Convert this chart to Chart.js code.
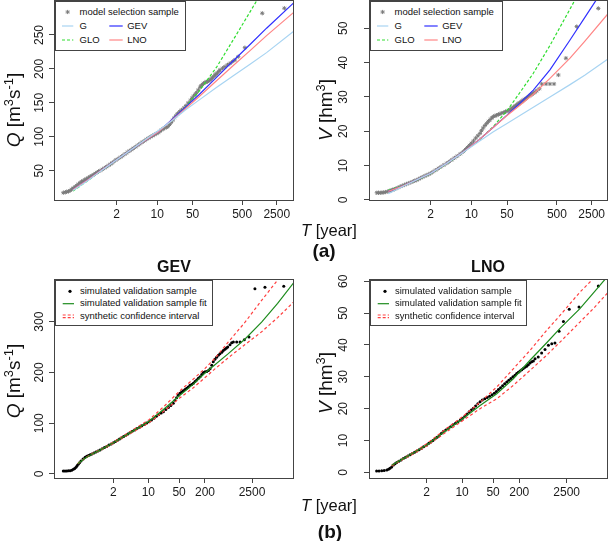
<!DOCTYPE html>
<html>
<head>
<meta charset="utf-8">
<title>Return period plots</title>
<script src="https://cdn.jsdelivr.net/npm/chart.js@4.4.1/dist/chart.umd.min.js"></script>
<style>
  html, body { margin: 0; padding: 0; background: #fff; }
  #figure { position: relative; width: 609px; height: 541px; overflow: hidden;
            font-family: "Liberation Sans", Arial, Helvetica, sans-serif; color: #111; }
  canvas { position: absolute; }
  .ytitle { position: absolute; font-size: 19px; line-height: 1; white-space: nowrap;
            transform: translate(-50%, -50%) rotate(-90deg); }
  .xtitle { position: absolute; font-size: 16.5px; line-height: 1; white-space: nowrap; transform: translateY(-50%); }
  .tag { position: absolute; font-size: 19px; font-weight: bold; line-height: 1; transform: translate(-50%, -50%); }
  .title { position: absolute; font-size: 16px; font-weight: bold; line-height: 1; transform: translate(-50%, -50%); }
  sup { font-size: 0.68em; line-height: 0; vertical-align: 0; position: relative; top: -0.55em; }
  .legend { position: absolute; box-sizing: border-box; border: 1px solid #444; background: #fff; font-size: 9.5px; }
  .legend span { position: absolute; line-height: 1; white-space: nowrap; transform: translateY(-50%); }
  .legend svg { position: absolute; left: 0; top: 0; overflow: visible; }
</style>
</head>
<body>
<div id="figure">
  <canvas id="tl" width="300" height="240" style="left:0;top:0"></canvas>
  <canvas id="tr" width="309" height="240" style="left:300px;top:0"></canvas>
  <canvas id="bl" width="300" height="260" style="left:0;top:255px"></canvas>
  <canvas id="br" width="309" height="260" style="left:300px;top:255px"></canvas>

  <div class="ytitle" style="left:13px;top:110px"><i>Q</i> [m<sup>3</sup>s<sup>-1</sup>]</div>
  <div class="ytitle" style="left:325px;top:110px"><i>V</i> [hm<sup>3</sup>]</div>
  <div class="ytitle" style="left:13px;top:381px"><i>Q</i> [m<sup>3</sup>s<sup>-1</sup>]</div>
  <div class="ytitle" style="left:325px;top:383px"><i>V</i> [hm<sup>3</sup>]</div>

  <div class="xtitle" style="left:301px;top:230px"><i>T</i> [year]</div>
  <div class="xtitle" style="left:301px;top:505px"><i>T</i> [year]</div>
  <div class="tag" style="left:324px;top:250px">(a)</div>
  <div class="tag" style="left:330px;top:531px">(b)</div>
  <div class="title" style="left:174px;top:267px">GEV</div>
  <div class="title" style="left:488px;top:267px">LNO</div>

  <div id="legend-tl" class="legend"></div>
  <div id="legend-tr" class="legend"></div>
  <div id="legend-bl" class="legend"></div>
  <div id="legend-br" class="legend"></div>
</div>

<script>
// x values are Gumbel reduced variates (probability paper), labelled with return periods
const topReturnTicks = [2, 10, 50, 500, 2500];
const bottomReturnTicks = [2, 10, 50, 200, 2500];
const qTopTicks = [50, 100, 150, 200, 250];
const vTopTicks = [0, 10, 20, 30, 40, 50];
const qBottomTicks = [0, 100, 200, 300];
const vBottomTicks = [0, 10, 20, 30, 40, 50, 60];

// (a) left: peak discharge, model selection sample
const tlSampleX = [-2.12, -2.03, -1.96, -1.88, -1.80, -1.73, -1.66, -1.58, -1.50, -1.42, -1.34, -1.27, -1.20, -1.12, -1.05, -0.96, -0.88, -0.79, -0.70, -0.62, -0.55, -0.48, -0.41, -0.30, -0.20, -0.10, 0.00, 0.08, 0.15, 0.24, 0.33, 0.44, 0.55, 0.65, 0.75, 0.85, 0.95, 1.05, 1.14, 1.25, 1.35, 1.45, 1.55, 1.66, 1.76, 1.86, 1.95, 2.04, 2.12, 2.21, 2.30, 2.38, 2.45, 2.53, 2.60, 2.68, 2.75, 2.83, 2.90, 2.98, 3.05, 3.13, 3.20, 3.30, 3.39, 3.50, 3.60, 3.70, 3.81, 3.88, 3.95, 4.02, 4.09, 4.17, 4.25, 4.30, 4.36, 4.42, 4.48, 4.54, 4.60, 4.66, 4.71, 4.77, 4.83, 4.89, 4.95, 5.00, 5.06, 5.12, 5.18, 5.30, 5.41, 5.53, 5.65, 5.77, 5.88, 6.03, 6.34, 7.15, 8.18];
const tlSampleQ = [17.6, 18.2, 19.0, 19.6, 20.8, 22.6, 24.2, 26.0, 28.0, 30.2, 32.3, 33.7, 35.0, 36.5, 38.0, 39.6, 41.2, 42.8, 44.5, 46.0, 47.5, 48.8, 50.0, 52.0, 54.0, 56.0, 58.0, 59.7, 61.5, 63.6, 65.8, 67.9, 70.0, 72.2, 74.5, 76.8, 79.0, 81.0, 83.0, 85.2, 87.5, 89.8, 92.0, 94.2, 96.3, 98.2, 100.0, 101.5, 103.0, 104.5, 106.0, 108.0, 110.0, 111.5, 113.0, 114.0, 115.0, 118.0, 121.0, 124.5, 128.0, 131.0, 134.0, 137.0, 139.5, 142.5, 146.0, 150.0, 154.0, 157.0, 160.0, 162.5, 165.0, 169.0, 173.0, 175.0, 177.0, 178.8, 180.0, 180.8, 181.5, 182.5, 183.5, 185.2, 187.0, 189.0, 191.0, 192.5, 194.0, 196.3, 198.5, 201.0, 203.3, 206.0, 208.3, 211.0, 213.2, 218.0, 231.3, 282.0, 289.4];
const tlFitX = [-1.67, -1.0, -0.4, 0.37, 1.14, 1.76, 2.3, 3.0, 3.55, 4.2, 5.03, 5.8, 6.58, 7.35, 8.6];
const tlG = [21, 35, 49, 66, 83, 97, 109, 125, 139, 154, 173, 190, 207, 224, 255];
const tlGEV = [22, 36, 49.5, 66, 83, 96, 107, 127, 143, 162, 188, 212, 236, 260, 297];
const tlGLO = [20, 35, 49, 66, 83, 96, 107, 126, 143, 167, 203, 243, 284, 325];
const tlLNO = [22, 36, 49.5, 66, 83, 96, 107, 126, 141, 159, 183, 205, 227, 249, 283];

// (a) right: flood volume, model selection sample
const trSampleX = [-2.13, -2.05, -1.97, -1.89, -1.81, -1.72, -1.62, -1.52, -1.46, -1.40, -1.33, -1.25, -1.15, -1.05, -0.95, -0.85, -0.75, -0.65, -0.55, -0.45, -0.37, -0.28, -0.19, -0.10, 0.00, 0.10, 0.19, 0.28, 0.37, 0.48, 0.60, 0.72, 0.85, 0.98, 1.11, 1.23, 1.35, 1.47, 1.60, 1.74, 1.88, 1.98, 2.07, 2.16, 2.25, 2.35, 2.45, 2.55, 2.65, 2.72, 2.80, 2.88, 2.96, 3.04, 3.12, 3.20, 3.27, 3.35, 3.42, 3.50, 3.58, 3.66, 3.75, 3.83, 3.91, 3.98, 4.04, 4.10, 4.15, 4.21, 4.27, 4.32, 4.37, 4.42, 4.46, 4.51, 4.56, 4.61, 4.66, 4.72, 4.78, 4.84, 4.89, 4.95, 5.00, 5.06, 5.12, 5.20, 5.28, 5.40, 5.51, 5.71, 5.89, 6.08, 6.28, 6.63, 7.13, 8.13];
const trSampleV = [2.1, 2.1, 2.1, 2.15, 2.2, 2.3, 2.5, 2.7, 2.8, 2.95, 3.1, 3.3, 3.6, 3.9, 4.15, 4.4, 4.65, 4.9, 5.15, 5.4, 5.6, 5.8, 6.1, 6.4, 6.7, 7.0, 7.25, 7.5, 7.8, 8.25, 8.7, 9.2, 9.7, 10.2, 10.7, 11.2, 11.7, 12.25, 12.8, 13.45, 14.1, 14.7, 15.3, 15.9, 16.5, 17.2, 18.0, 18.7, 19.4, 20.2, 21.0, 21.7, 22.3, 22.9, 23.4, 23.9, 24.3, 24.5, 24.7, 24.9, 25.1, 25.3, 25.5, 25.7, 25.9, 26.1, 26.3, 26.55, 26.8, 27.05, 27.3, 27.55, 27.8, 28.0, 28.2, 28.4, 28.6, 28.85, 29.1, 29.35, 29.6, 29.85, 30.1, 30.35, 30.6, 30.85, 31.1, 31.4, 31.8, 32.4, 33.8, 33.8, 33.8, 33.8, 36.4, 41.3, 50.5, 55.8];
const trFitX = [-1.6, -1.0, -0.3, 0.37, 1.1, 1.88, 2.6, 3.27, 3.9, 4.5, 5.12, 5.89, 6.82, 7.5, 8.56];
const trG = [1.8, 3.7, 5.8, 7.8, 10.6, 13.9, 17.0, 19.9, 22.3, 24.6, 27.0, 30.0, 33.6, 36.3, 41.0];
const trGEV = [2.5, 3.9, 5.8, 7.8, 10.6, 14.0, 17.5, 21.2, 24.7, 28.2, 32.0, 37.9, 46.6, 53.1, 63.3];
const trGLO = [2.8, 4.0, 5.7, 7.7, 10.5, 13.9, 17.4, 21.4, 26.0, 31.3, 36.9, 45.0, 55.6, 63.5];
const trLNO = [2.5, 3.9, 5.8, 7.8, 10.6, 14.0, 17.5, 21.2, 24.6, 27.6, 30.8, 35.4, 41.3, 46.2, 54.1];

// (b) left: GEV, simulated validation sample
const blSampleX = [-2.32, -2.23, -2.14, -2.05, -1.96, -1.87, -1.78, -1.71, -1.64, -1.58, -1.52, -1.45, -1.37, -1.26, -1.15, -1.06, -0.97, -0.88, -0.79, -0.68, -0.57, -0.46, -0.35, -0.23, -0.11, 0.01, 0.13, 0.25, 0.37, 0.48, 0.59, 0.70, 0.81, 0.92, 1.04, 1.15, 1.26, 1.38, 1.51, 1.64, 1.77, 1.90, 2.03, 2.16, 2.29, 2.42, 2.55, 2.68, 2.81, 2.94, 3.06, 3.19, 3.33, 3.46, 3.59, 3.68, 3.77, 3.86, 3.95, 4.04, 4.13, 4.22, 4.31, 4.40, 4.49, 4.58, 4.67, 4.76, 4.85, 4.94, 5.03, 5.12, 5.21, 5.30, 5.39, 5.48, 5.57, 5.66, 5.74, 5.83, 5.92, 6.01, 6.10, 6.20, 6.28, 6.37, 6.45, 6.52, 6.64, 6.73, 6.82, 7.00, 7.18, 7.41, 7.66, 7.98, 8.52, 9.53];
const blSampleQ = [5.9, 5.9, 6.0, 6.2, 6.5, 7.5, 9.2, 11.0, 13.2, 16.0, 19.1, 22.0, 25.6, 29.5, 32.8, 34.8, 36.5, 38.0, 39.4, 41.5, 43.5, 45.4, 47.3, 49.5, 52.0, 54.2, 57.0, 59.3, 61.7, 64.0, 66.5, 68.9, 71.3, 73.8, 76.4, 79.0, 81.4, 84.0, 86.8, 89.5, 92.2, 94.9, 97.6, 100.3, 103.0, 106.5, 110.0, 113.5, 117.0, 120.0, 122.7, 127.0, 131.0, 135.0, 139.3, 145.0, 150.0, 155.0, 159.0, 161.5, 164.0, 166.5, 168.8, 171.5, 174.7, 176.5, 178.6, 182.0, 185.0, 188.5, 191.7, 196.0, 200.0, 201.5, 202.0, 204.0, 207.4, 214.0, 221.2, 225.9, 230.0, 233.8, 237.0, 240.0, 243.0, 245.6, 248.0, 250.0, 254.7, 258.6, 260.0, 260.0, 260.0, 264.5, 269.8, 365.0, 367.7, 369.7];
const blFitX = [-1.55, -1.15, -0.79, -0.35, 0.37, 1.26, 2.29, 3.06, 3.95, 4.67, 5.3, 5.83, 6.55, 7.45, 8.34, 9.2, 10.07];
const blFit = [20, 31, 39, 47, 61.5, 81, 104, 127, 155, 177, 199, 215, 237, 266, 299, 336, 377];
const blUpper = [20, 31.5, 40, 48, 63, 83, 107, 132, 164, 187, 208, 228, 260, 299, 342, 382, 420];
const blLower = [20, 30.5, 38.5, 46, 60, 79, 101, 123, 150, 170, 190, 207, 229, 255, 280, 308, 339];

// (b) right: LNO, simulated validation sample
const brSampleX = [-2.30, -2.17, -2.03, -1.90, -1.76, -1.67, -1.59, -1.50, -1.41, -1.32, -1.23, -1.12, -1.00, -0.88, -0.76, -0.64, -0.52, -0.40, -0.28, -0.16, -0.04, 0.08, 0.20, 0.37, 0.48, 0.59, 0.70, 0.81, 0.92, 1.03, 1.14, 1.25, 1.38, 1.51, 1.64, 1.77, 1.90, 2.03, 2.16, 2.28, 2.40, 2.52, 2.63, 2.74, 2.85, 2.97, 3.09, 3.21, 3.33, 3.46, 3.59, 3.72, 3.85, 3.97, 4.08, 4.19, 4.30, 4.41, 4.52, 4.63, 4.74, 4.85, 4.96, 5.07, 5.16, 5.25, 5.34, 5.43, 5.51, 5.60, 5.69, 5.78, 5.87, 5.96, 6.05, 6.14, 6.31, 6.49, 6.67, 6.85, 7.03, 7.20, 7.42, 7.65, 7.96, 8.48, 9.51];
const brSampleV = [0.4, 0.4, 0.45, 0.55, 0.7, 0.95, 1.25, 1.7, 2.3, 2.7, 3.1, 3.5, 3.9, 4.3, 4.7, 5.1, 5.5, 5.9, 6.3, 6.7, 7.1, 7.5, 8.0, 8.6, 9.1, 9.5, 10.0, 10.5, 11.0, 11.5, 12.2, 12.8, 13.3, 13.8, 14.3, 14.9, 15.4, 15.9, 16.4, 17.0, 17.6, 18.3, 19.0, 19.6, 20.1, 20.8, 21.5, 22.2, 22.7, 23.1, 23.5, 23.9, 24.4, 24.8, 25.4, 26.0, 26.6, 27.2, 27.8, 28.4, 28.9, 29.5, 30.0, 30.5, 31.0, 31.4, 31.8, 32.2, 32.6, 33.0, 33.3, 33.8, 34.3, 34.7, 35.0, 35.7, 36.2, 37.5, 38.6, 39.9, 40.4, 40.6, 44.3, 47.4, 51.2, 51.9, 58.5];
const brFitX = [-1.5, -1.0, -0.4, 0.37, 1.25, 2.28, 3.21, 4.1, 4.98, 5.87, 6.76, 7.47, 8.53, 9.24, 10.04];
const brFit = [2.2, 3.9, 5.9, 8.6, 12.5, 16.8, 21.0, 24.7, 29.4, 35.2, 40.7, 45.2, 51.4, 56.3, 61.8];
const brUpper = [2.2, 4.0, 6.1, 9.0, 13.0, 17.5, 22.0, 26.8, 32.5, 38.3, 44.6, 49.3, 56.6, 60.8, 66.0];
const brLower = [2.0, 3.7, 5.6, 8.3, 12.0, 16.2, 20.0, 23.1, 27.3, 32.0, 36.8, 40.9, 47.2, 51.4, 56.6];

const FONT = '"Liberation Sans", Arial, Helvetica, sans-serif';
const FRAME = "#444";
const AXIS_W = 30;
const AXIS_H = 30;

const gumbel = (t) => -Math.log(-Math.log(1 - 1 / t));
const zip = (xs, ys) => ys.map((y, i) => ({ x: xs[i], y }));

function curve(xs, ys, color, dash) {
    return {
        data: zip(xs, ys),
        showLine: true,
        borderColor: color,
        borderWidth: 1.2,
        borderDash: dash || [],
        pointRadius: 0,
        fill: false,
        order: 0,
    };
}

function stars(xs, ys) {
    return {
        data: zip(xs, ys),
        pointStyle: "star",
        pointRadius: 2.1,
        borderColor: "#7b7b7b",
        backgroundColor: "#7b7b7b",
        borderWidth: 1,
        order: 1,
    };
}

function dots(xs, ys) {
    return {
        data: zip(xs, ys),
        pointStyle: "circle",
        pointRadius: 1.5,
        borderWidth: 0,
        backgroundColor: "#000",
        order: 1,
    };
}

// box round the plot plus the upright y tick labels R draws
const framePlugin = {
    id: "frame",
    afterDraw(chart, args, opts) {
        const { ctx, chartArea: a } = chart;
        const y = chart.scales.y;
        ctx.save();
        ctx.strokeStyle = FRAME;
        ctx.lineWidth = 1;
        ctx.strokeRect(a.left, a.top, a.right - a.left, a.bottom - a.top);
        ctx.fillStyle = "#1a1a1a";
        ctx.font = `12px ${FONT}`;
        ctx.textAlign = "center";
        ctx.textBaseline = "middle";
        y.ticks.forEach((tick) => {
            ctx.save();
            ctx.translate(a.left - opts.labelGap, y.getPixelForValue(tick.value));
            ctx.rotate(-Math.PI / 2);
            ctx.fillText(String(tick.value), 0, 0);
            ctx.restore();
        });
        ctx.restore();
    },
};

function makePanel(id, cfg) {
    const canvas = document.getElementById(id);
    const [left, top, right, bottom] = cfg.area;
    return new Chart(canvas, {
        type: "scatter",
        data: { datasets: cfg.datasets },
        options: {
            responsive: false,
            animation: false,
            events: [],
            layout: {
                autoPadding: false,
                padding: {
                    left: left - AXIS_W,
                    top: top,
                    right: canvas.width - right,
                    bottom: canvas.height - bottom - AXIS_H,
                },
            },
            plugins: {
                legend: { display: false },
                tooltip: { enabled: false },
                frame: { labelGap: cfg.labelGap },
            },
            scales: {
                x: {
                    type: "linear",
                    min: cfg.xRange[0],
                    max: cfg.xRange[1],
                    afterBuildTicks: (scale) => {
                        scale.ticks = cfg.xTicks.map((t) => ({ value: gumbel(t) }));
                    },
                    afterFit: (scale) => {
                        scale.height = AXIS_H;
                    },
                    border: { display: false },
                    grid: { drawOnChartArea: false, drawTicks: true, tickLength: 4.5, color: FRAME },
                    ticks: {
                        autoSkip: false,
                        maxRotation: 0,
                        padding: 2.5,
                        color: "#1a1a1a",
                        font: { family: FONT, size: 12 },
                        callback: (value, index) => String(cfg.xTicks[index]),
                    },
                },
                y: {
                    type: "linear",
                    min: cfg.yRange[0],
                    max: cfg.yRange[1],
                    afterBuildTicks: (scale) => {
                        scale.ticks = cfg.yTicks.map((v) => ({ value: v }));
                    },
                    afterFit: (scale) => {
                        scale.width = AXIS_W;
                    },
                    border: { display: false },
                    grid: { drawOnChartArea: false, drawTicks: true, tickLength: 5.5, color: FRAME },
                    ticks: { display: false },
                },
            },
        },
        plugins: [framePlugin],
    });
}

function buildLegend(id, box, items) {
    const el = document.getElementById(id);
    el.style.left = `${box[0]}px`;
    el.style.top = `${box[1]}px`;
    el.style.width = `${box[2]}px`;
    el.style.height = `${box[3]}px`;
    let svg = `<svg width="${box[2]}" height="${box[3]}">`;
    let html = "";
    items.forEach((item) => {
        const [x1, x2] = item.sym;
        const cy = item.y;
        const cx = (x1 + x2) / 2;
        if (item.kind === "star") {
            const r = 2.1;
            const d = r * 0.7071;
            svg += `<path d="M${cx} ${cy - r}V${cy + r}M${cx - r} ${cy}H${cx + r}M${cx - d} ${cy - d}L${cx + d} ${cy + d}M${cx + d} ${cy - d}L${cx - d} ${cy + d}" stroke="${item.color}" stroke-width="1" fill="none"/>`;
        } else if (item.kind === "dot") {
            svg += `<circle cx="${cx}" cy="${cy}" r="1.6" fill="${item.color}"/>`;
        } else if (item.kind === "double") {
            [-1.3, 1.3].forEach((off) => {
                svg += `<line x1="${x1}" y1="${cy + off}" x2="${x2}" y2="${cy + off}" stroke="${item.color}" stroke-width="1.1" stroke-dasharray="${item.dash}"/>`;
            });
        } else {
            svg += `<line x1="${x1}" y1="${cy}" x2="${x2}" y2="${cy}" stroke="${item.color}" stroke-width="1.2"${item.dash ? ` stroke-dasharray="${item.dash}"` : ""}/>`;
        }
        html += `<span style="left:${item.tx}px;top:${cy}px">${item.text}</span>`;
    });
    svg += "</svg>";
    el.innerHTML = svg + html;
}

const C = {
    sample: "#7b7b7b",
    G: "#a8d4f2",
    GEV: "#3030ff",
    GLO: "#30dd30",
    LNO: "#ff8585",
    fit: "#1e8c1e",
    ci: "#ff4040",
};

makePanel("tl", {
    area: [54.5, 0.5, 293.5, 200.5],
    xRange: [-2.532, 8.605],
    yRange: [6.1, 300.8],
    xTicks: topReturnTicks,
    yTicks: qTopTicks,
    labelGap: 15,
    datasets: [
        curve(tlFitX, tlG, C.G),
        curve(tlFitX, tlLNO, C.LNO),
        curve(tlFitX, tlGEV, C.GEV),
        curve(tlFitX, tlGLO, C.GLO, [3, 2]),
        stars(tlSampleX, tlSampleQ),
    ],
});

makePanel("tr", {
    area: [69.5, 0.5, 307.5, 200.5],
    xRange: [-2.468, 8.556],
    yRange: [-0.15, 58.1],
    xTicks: topReturnTicks,
    yTicks: vTopTicks,
    labelGap: 26,
    datasets: [
        curve(trFitX, trG, C.G),
        curve(trFitX, trLNO, C.LNO),
        curve(trFitX, trGEV, C.GEV),
        curve(trFitX, trGLO, C.GLO, [3, 2]),
        stars(trSampleX, trSampleV),
    ],
});

makePanel("bl", {
    area: [54.5, 24.5, 293.5, 223.5],
    xRange: [-2.795, 10.054],
    yRange: [-8.9, 383.1],
    xTicks: bottomReturnTicks,
    yTicks: qBottomTicks,
    labelGap: 14.5,
    datasets: [
        curve(blFitX, blFit, C.fit),
        curve(blFitX, blUpper, C.ci, [3, 2.5]),
        curve(blFitX, blLower, C.ci, [3, 2.5]),
        dots(blSampleX, blSampleQ),
    ],
});

makePanel("br", {
    area: [69.5, 24.5, 307.5, 223.5],
    xRange: [-2.681, 9.999],
    yRange: [-1.95, 60.57],
    xTicks: bottomReturnTicks,
    yTicks: vBottomTicks,
    labelGap: 26,
    datasets: [
        curve(brFitX, brFit, C.fit),
        curve(brFitX, brUpper, C.ci, [3, 2.5]),
        curve(brFitX, brLower, C.ci, [3, 2.5]),
        dots(brSampleX, brSampleV),
    ],
});

const topLegendItems = [
    { text: "model selection sample", kind: "star", color: C.sample, sym: [6, 17.3], tx: 24, y: 10 },
    { text: "G", kind: "line", color: C.G, sym: [6, 17.3], tx: 24, y: 24 },
    { text: "GEV", kind: "line", color: C.GEV, sym: [53.3, 66.7], tx: 71.7, y: 24 },
    { text: "GLO", kind: "line", color: C.GLO, dash: "3 2", sym: [6, 17.3], tx: 24, y: 38 },
    { text: "LNO", kind: "line", color: C.LNO, sym: [53.3, 66.7], tx: 71.7, y: 38 },
];
const bottomLegendItems = [
    { text: "simulated validation sample", kind: "dot", color: "#000", sym: [8, 20], tx: 24.5, y: 10.3 },
    { text: "simulated validation sample fit", kind: "line", color: C.fit, sym: [6.7, 18], tx: 24.5, y: 22.7 },
    { text: "synthetic confidence interval", kind: "double", color: C.ci, dash: "3 2", sym: [6.7, 18], tx: 24.5, y: 35.3 },
];

buildLegend("legend-tl", [54.5, 0.5, 131, 50.5], topLegendItems);
buildLegend("legend-tr", [369.5, 0.5, 133, 50.5], topLegendItems);
buildLegend("legend-bl", [54.5, 279.5, 158, 46], bottomLegendItems);
buildLegend("legend-br", [369.5, 279.5, 157.5, 46], bottomLegendItems);
</script>
</body>
</html>
